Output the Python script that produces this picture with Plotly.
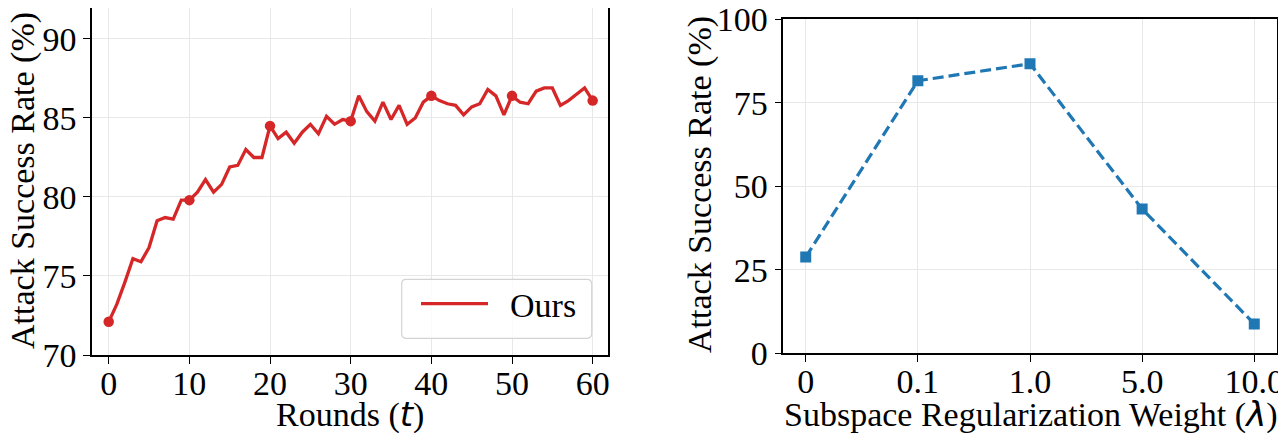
import plotly.graph_objects as go

# ---------------- data ----------------
rounds = list(range(61))
asr_rounds = [72.1, 73.2, 74.6, 76.1, 75.9, 76.8, 78.5, 78.7, 78.6, 79.8,
              79.8, 80.3, 81.1, 80.3, 80.8, 81.9, 82.0, 83.0, 82.5, 82.5,
              84.5, 83.7, 84.1, 83.4, 84.1, 84.6, 84.0, 85.1, 84.6, 84.9,
              84.8, 86.4, 85.4, 84.8, 86.0, 84.9, 85.8, 84.6, 85.0, 86.0,
              86.4, 86.1, 85.9, 85.8, 85.2, 85.7, 85.9, 86.8, 86.4, 85.2,
              86.4, 86.0, 85.9, 86.7, 86.9, 86.9, 85.8, 86.1, 86.5, 86.9,
              86.1]
mark_every = 10

lambda_labels = ["0", "0.1", "1.0", "5.0", "10.0"]
asr_lambda = [28.8, 81.6, 86.7, 43.2, 8.8]

left_yticks = [70, 75, 80, 85, 90]
left_xticks = [0, 10, 20, 30, 40, 50, 60]
right_yticks = [0, 25, 50, 75, 100]

RED = "#d62728"
BLUE = "#1f77b4"
FONT = "Liberation Serif"
FS = 34
W, H = 1286, 433
OFF = 8  # page body margin of the html page


def px(x):
    return min(1.0, max(0.0, (x - OFF) / W))


def py(y):
    return min(1.0, max(0.0, 1 - (y - OFF) / H))


fig = go.Figure()

fig.add_trace(go.Scatter(
    x=rounds, y=asr_rounds, mode="lines", name="\u00a0\u00a0Ours",
    line=dict(color=RED, width=3.3), xaxis="x", yaxis="y", showlegend=True))
fig.add_trace(go.Scatter(
    x=rounds[::mark_every], y=asr_rounds[::mark_every], mode="markers",
    marker=dict(color=RED, size=10.5), xaxis="x", yaxis="y", showlegend=False))

fig.add_trace(go.Scatter(
    x=lambda_labels, y=asr_lambda, mode="lines+markers",
    line=dict(color=BLUE, width=3.2, dash="11px,5px"),
    marker=dict(color=BLUE, size=11, symbol="square"),
    xaxis="x2", yaxis="y2", showlegend=False))

axis_common = dict(
    showline=True, linecolor="black", linewidth=1.5, mirror=True,
    ticks="outside", ticklen=7, tickwidth=1.3, tickcolor="black",
    showgrid=True, gridcolor="#e8e8e8", gridwidth=1, automargin=False,
    ticklabeloverflow="allow",
    zeroline=False, tickfont=dict(family=FONT, size=FS, color="black"),
)

fig.update_layout(
    width=W, height=H, margin=dict(l=0, r=0, t=0, b=0, pad=0, autoexpand=False),
    autosize=False,
    paper_bgcolor="white", plot_bgcolor="white",
    font=dict(family=FONT, size=FS, color="black"),
    xaxis=dict(domain=[px(92), px(608)], range=[-2.07, 61.9],
               tickvals=left_xticks, anchor="y", ticklabelstandoff=-10, **axis_common),
    yaxis=dict(domain=[py(355), py(8)], range=[70, 91.96],
               tickvals=left_yticks, anchor="x", **axis_common),
    xaxis2=dict(domain=[px(783.3), px(1276.7)], range=[-0.2, 4.2],
                type="category", anchor="y2", ticklabelstandoff=-10, **axis_common),
    yaxis2=dict(domain=[py(353.3), py(19.3)], range=[0, 100],
                tickvals=right_yticks, anchor="x2", **axis_common),
    legend=dict(x=px(416), y=py(275), xanchor="left", yanchor="top",
                bgcolor="rgba(0,0,0,0)", borderwidth=0,
                font=dict(family=FONT, size=FS), itemwidth=67),
    shapes=[dict(type="path", xref="paper", yref="paper", layer="above",
                 path=("M {a},{b} L {c},{b} Q {d},{b} {d},{e} L {d},{f} "
                       "Q {d},{g} {c},{g} L {a},{g} Q {h},{g} {h},{f} "
                       "L {h},{e} Q {h},{b} {a},{b} Z").format(
                     a=px(406), c=px(587), d=px(591.7), h=px(401.7),
                     b=py(279.3), e=py(284), f=py(333.6), g=py(338.3)),
                 line=dict(color="#d4d4d4", width=1.2),
                 fillcolor="rgba(255,255,255,0.8)")],
    annotations=[
        dict(text="Attack Success Rate (%)", textangle=-90, xref="paper", yref="paper",
             x=px(23), y=py(181), xanchor="center", yanchor="middle", showarrow=False,
             font=dict(family=FONT, size=FS)),
        dict(text="Attack Success Rate (%)", textangle=-90, xref="paper", yref="paper",
             x=px(700), y=py(184), xanchor="center", yanchor="middle", showarrow=False,
             font=dict(family=FONT, size=FS)),
        dict(text="Rounds (<i><span style='font-family:DejaVu Sans'>t</span></i>)",
             xref="paper", yref="paper", x=px(350), y=py(414),
             xanchor="center", yanchor="middle", showarrow=False,
             font=dict(family=FONT, size=FS)),
        dict(text="Subspace Regularization Weight (<i><span style='font-family:DejaVu Sans'>λ</span></i>)",
             xref="paper", yref="paper", x=px(1031), y=py(414),
             xanchor="center", yanchor="middle", showarrow=False,
             font=dict(family=FONT, size=FS)),
    ],
)

fig.write_html("out.html")
